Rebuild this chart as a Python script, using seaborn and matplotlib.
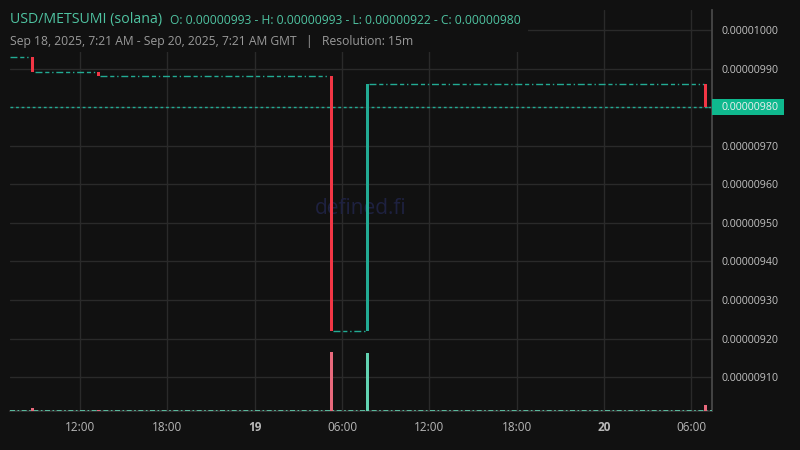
import pandas as pd
import numpy as np
import matplotlib.pyplot as plt
import matplotlib.dates as mdates
import matplotlib.transforms as mtrans
from matplotlib.patches import Rectangle
import seaborn as sns

# candles where the price actually moved (15m bars), prices in units of 1e-8
candle_times = ["2025-09-18 08:45", "2025-09-18 13:15", "2025-09-19 05:15",
                "2025-09-19 07:45", "2025-09-20 07:00"]
candle_open = [993, 989, 988, 922, 986]
candle_close = [989, 988, 922, 986, 980]
candle_volume = [30, 14, 590, 580, 62]

range_start = "2025-09-18 07:11"
range_end = "2025-09-20 07:26"
last_price = 980

x_ticks = ["2025-09-18 12:00", "2025-09-18 18:00", "2025-09-19 00:00", "2025-09-19 06:00",
           "2025-09-19 12:00", "2025-09-19 18:00", "2025-09-20 00:00", "2025-09-20 06:00"]
x_labels = ["12:00", "18:00", "19", "06:00", "12:00", "18:00", "20", "06:00"]
y_ticks = [910, 920, 930, 940, 950, 960, 970, 980, 990, 1000]

BG = "#111111"
UP = "#22ab94"
DOWN = "#f23645"
GRID = "#2a2a2a"

sns.set_theme(style="dark", rc={
    "axes.facecolor": BG, "figure.facecolor": BG,
    "axes.edgecolor": "#444444", "grid.color": GRID,
})
plt.rcParams["font.family"] = ["Open Sans", "DejaVu Sans"]

df = pd.DataFrame({
    "time": pd.to_datetime(candle_times),
    "open": np.array(candle_open) * 1e-8,
    "close": np.array(candle_close) * 1e-8,
    "volume": candle_volume,
})
df["up"] = df["close"] >= df["open"]
t0 = pd.Timestamp(range_start)
t1 = pd.Timestamp(range_end)

fig = plt.figure(figsize=(8, 4.5), dpi=100)
ax = fig.add_axes([10 / 800, 39 / 450, 702 / 800, 401 / 450])
ax.set_facecolor(BG)

# flat periods between moves (drawn as dashed flat candles)
seg_starts = [t0] + list(df["time"] + pd.Timedelta(minutes=8))
seg_ends = list(df["time"] - pd.Timedelta(minutes=8)) + [t1]
seg_levels = [df["open"].iloc[0]] + list(df["close"])
for s, e, lv in zip(seg_starts, seg_ends, seg_levels):
    if e > s:
        ax.hlines(lv, s, e, color=UP, lw=1, linestyles=(0, (5, 2, 3, 2, 1, 2)), zorder=2)

# candle bodies
w = pd.Timedelta(minutes=12) / pd.Timedelta(days=1)
for _, r in df.iterrows():
    lo = min(r["open"], r["close"])
    h = abs(r["close"] - r["open"])
    ax.bar(mdates.date2num(r["time"]), h, bottom=lo, width=w,
           color=UP if r["up"] else DOWN, linewidth=0, zorder=3)

# last price line
ax.axhline(last_price * 1e-8, color=UP, lw=1, linestyle=(0, (2, 2)), zorder=2)

# volume overlay
axv = ax.twinx()
axv.set_ylim(0, max(candle_volume) * 6.8)
axv.bar(df["time"], df["volume"], width=w,
        color=np.where(df["up"], "#62d3b2", "#e8697c"), linewidth=0, zorder=3)
axv.axhline(3, color="#62d3b2", lw=1.2, linestyle=(0, (3, 1.5, 1, 1.5)), zorder=2)
axv.set_yticks([])
axv.grid(False)
for sp in axv.spines.values():
    sp.set_visible(False)

ax.set_xlim(t0, t1)
ax.set_ylim(901.2e-8, 1005.2e-8)
ax.set_xticks(pd.to_datetime(x_ticks))
ax.set_xticklabels(x_labels)
for lbl in ax.get_xticklabels():
    if lbl.get_text() in ("19", "20"):
        lbl.set_fontweight("bold")
ax.set_yticks(np.array(y_ticks) * 1e-8)
ax.set_yticklabels([f"{v * 1e-8:.8f}" for v in y_ticks])
ax.yaxis.tick_right()
ax.tick_params(axis="y", which="both", left=False, labelleft=False, right=False,
               labelright=True, length=0, pad=7, labelsize=7.7, labelcolor="#c2c2c2")
ax.tick_params(axis="x", length=0, pad=7, labelsize=8.5, labelcolor="#b8b8b8")
ax.grid(True, color=GRID, lw=1)
ax.set_axisbelow(True)
for side in ("top", "left"):
    ax.spines[side].set_visible(False)
ax.spines["right"].set_visible(True)
ax.spines["right"].set_color("#4a4a4a")
ax.spines["bottom"].set_color("#333333")

# header box hiding the grid
ax.add_patch(Rectangle((0, 1 - 42 / 401), 518 / 702, 42 / 401, transform=ax.transAxes,
                       facecolor=BG, edgecolor="none", zorder=1))

# last price label
trans = mtrans.blended_transform_factory(ax.transAxes, ax.transData)
ax.add_patch(Rectangle((1.0, (last_price - 2.1) * 1e-8), 72 / 702, 4.2e-8, transform=trans,
                       facecolor="#0fb98e", edgecolor="none", clip_on=False, zorder=10))
ax.text(1.0 + 10 / 702, last_price * 1e-8, f"{last_price * 1e-8:.8f}", transform=trans,
        va="center", ha="left", fontsize=7.7, color="#f0f0f0", zorder=11)

# watermark
ax.text(0.5, 0.505, "defined.fi", transform=ax.transAxes, ha="center", va="center",
        fontsize=15, color="#1e2140", zorder=1)

# header text
fig.text(10 / 800, 1 - 20 / 450, "USD/METSUMI (solana)", fontsize=10.2, color="#4fc3a1",
         va="center", ha="left")
fig.text(170 / 800, 1 - 20 / 450,
         "O: 0.00000993 - H: 0.00000993 - L: 0.00000922 - C: 0.00000980",
         fontsize=8.7, color="#4fc3a1", va="center", ha="left")
fig.text(10 / 800, 1 - 41 / 450,
         "Sep 18, 2025, 7:21 AM - Sep 20, 2025, 7:21 AM GMT   |   Resolution: 15m",
         fontsize=8.7, color="#9a9a9a", va="center", ha="left")

fig.savefig("out.png", dpi=100, facecolor=BG)
